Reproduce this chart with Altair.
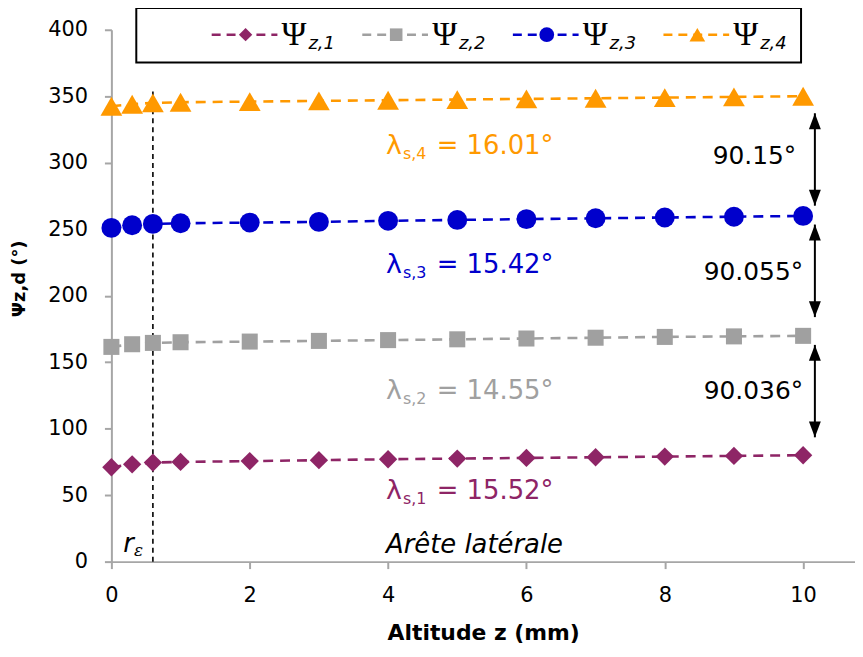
import altair as alt
import pandas as pd

# ---------------- data ----------------
z_mm = [0, 0.3, 0.6, 1, 2, 3, 4, 5, 6, 7, 8, 9, 10]
psi_z1 = [71.0, 73.2, 74.5, 75.0, 75.6, 76.3, 77.0, 77.5, 78.0, 78.5, 79.0, 79.5, 80.0]
psi_z2 = [161.5, 163.5, 164.5, 165.0, 165.5, 166.0, 166.6, 167.2, 167.8, 168.4, 169.0, 169.4, 169.8]
psi_z3 = [251.0, 253.0, 254.0, 254.5, 255.0, 255.5, 256.3, 257.0, 257.6, 258.2, 258.8, 259.4, 260.0]
psi_z4 = [342.5, 344.0, 345.0, 345.5, 346.0, 346.5, 347.0, 347.5, 348.0, 348.5, 349.0, 349.5, 350.0]

series_values = [psi_z1, psi_z2, psi_z3, psi_z4]
series_sub = ["z,1", "z,2", "z,3", "z,4"]
colors = ["#8E2566", "#A0A0A0", "#0000CC", "#FF9900"]
shapes = ["diamond", "square", "circle", "triangle-up"]
sizes = [340, 260, 400, 480]
legend_sizes = [180, 160, 220, 250]

lambda_sub = ["s,1", "s,2", "s,3", "s,4"]
lambda_val = ["= 15.52°", "= 14.55°", "= 15.42°", "= 16.01°"]
lambda_y = [53.0, 128.0, 223.0, 312.5]
lambda_x = 3.97

gap_labels = ["90.036°", "90.055°", "90.15°"]
gap_low = [93.5, 183.9, 267.7]
gap_high = [163.0, 253.5, 337.2]
gap_label_y = [128.6, 217.6, 305.0]
gap_label_x = [10.0, 10.0, 9.9]
arrow_x = 10.17

r_eps = 0.6
r_eps_top = 355

x_ticks = [0, 2, 4, 6, 8, 10]
y_ticks = [0, 50, 100, 150, 200, 250, 300, 350, 400]

FONT = "DejaVu Sans"
SERIF = "DejaVu Serif"

X_DOMAIN = [0, 10.75]
Y_DOMAIN = [0, 400]

xs = alt.Scale(domain=X_DOMAIN, nice=False, zero=False)
ys = alt.Scale(domain=Y_DOMAIN, nice=False)

x_axis = alt.Axis(values=x_ticks, title="Altitude z (mm)", grid=False,
                  domainColor="#A6A6A6", domainWidth=2, tickColor="#A6A6A6",
                  tickWidth=2, tickSize=7, labelFontSize=21, labelColor="#000",
                  labelFont=FONT, labelPadding=16, titleFont=FONT,
                  titleFontSize=22, titleFontWeight="bold", titleColor="#000",
                  titlePadding=17, labelFlush=False)
y_axis = alt.Axis(values=y_ticks, title="Ψz,d (°)", grid=False,
                  domainColor="#A6A6A6", domainWidth=2, tickColor="#A6A6A6",
                  tickWidth=2, tickSize=7, labelFontSize=21, labelColor="#000",
                  labelFont=FONT, labelPadding=17, titleFont=FONT,
                  titleFontSize=18, titleFontWeight="bold", titleColor="#000",
                  titleX=-92, titleY=250, titleAngle=-90, titleBaseline="middle",
                  titleAlign="center")


def X(field="x"):
    return alt.X(f"{field}:Q", scale=xs, axis=x_axis)


def Y(field="y"):
    return alt.Y(f"{field}:Q", scale=ys, axis=y_axis)


layers = []

# r_epsilon dashed vertical line
reps_df = pd.DataFrame({"x": [r_eps], "y": [0], "y2": [r_eps_top]})
layers.append(alt.Chart(reps_df).mark_rule(color="black", strokeDash=[5, 4], strokeWidth=1.6).encode(
    x=X(), y=Y(), y2="y2:Q"))

# series
for vals, col, shp, sz in zip(series_values, colors, shapes, sizes):
    df = pd.DataFrame({"x": z_mm, "y": vals})
    layers.append(alt.Chart(df).mark_line(color=col, strokeDash=[10, 7], strokeWidth=2.6).encode(x=X(), y=Y()))
    layers.append(alt.Chart(df).mark_point(color=col, shape=shp, size=sz, filled=True, opacity=1).encode(x=X(), y=Y()))

# lambda annotations
for sub, val, ly, col in zip(lambda_sub, lambda_val, lambda_y, colors):
    df = pd.DataFrame({"x": [lambda_x], "y": [ly]})
    base = alt.Chart(df).encode(x=X(), y=Y())
    layers.append(base.mark_text(text="λ", font=FONT, fontSize=27, color=col, align="left", baseline="middle"))
    layers.append(base.mark_text(text=sub, font=FONT, fontSize=16, color=col, align="left", baseline="middle", dx=17, dy=8))
    layers.append(base.mark_text(text=val, font=FONT, fontSize=26, color=col, align="left", baseline="middle", dx=51))

# gap arrows
for lo, hi, lab, lyy, lxx in zip(gap_low, gap_high, gap_labels, gap_label_y, gap_label_x):
    df = pd.DataFrame({"x": [arrow_x], "y": [lo], "y2": [hi]})
    layers.append(alt.Chart(df).mark_rule(color="black", strokeWidth=2).encode(x=X(), y=Y(), y2="y2:Q"))
    top = pd.DataFrame({"x": [arrow_x], "y": [hi]})
    bot = pd.DataFrame({"x": [arrow_x], "y": [lo]})
    layers.append(alt.Chart(top).mark_point(shape="M0,0L-0.6,1.6L0.6,1.6Z", size=400, filled=True,
                                            color="black", opacity=1).encode(x=X(), y=Y()))
    layers.append(alt.Chart(bot).mark_point(shape="M0,0L-0.6,-1.6L0.6,-1.6Z", size=400, filled=True,
                                            color="black", opacity=1).encode(x=X(), y=Y()))
    tdf = pd.DataFrame({"x": [lxx], "y": [lyy]})
    layers.append(alt.Chart(tdf).mark_text(text=lab, font=FONT, fontSize=25, color="black",
                                           align="right", baseline="middle").encode(x=X(), y=Y()))

# r_epsilon label and "Arête latérale"
rdf = pd.DataFrame({"x": [0.17], "y": [13.5]})
layers.append(alt.Chart(rdf).mark_text(text="r", font=FONT, fontStyle="italic", fontSize=26,
                                       align="left", baseline="middle", color="black").encode(x=X(), y=Y()))
layers.append(alt.Chart(rdf).mark_text(text="ε", font=SERIF, fontStyle="italic", fontSize=17,
                                       align="left", baseline="middle", color="black", dx=11, dy=7).encode(x=X(), y=Y()))
adf = pd.DataFrame({"x": [3.97], "y": [12.7]})
layers.append(alt.Chart(adf).mark_text(text="Arête latérale", font=FONT, fontStyle="italic", fontSize=26,
                                       align="left", baseline="middle", color="black").encode(x=X(), y=Y()))

# legend box
LEG_Y = 396.3
LEG_STEP = 2.177
box = pd.DataFrame({"x": [0.36], "x2": [9.97], "y": [375.3], "y2": [416.4]})
layers.append(alt.Chart(box).mark_rect(fill="white", stroke="black", strokeWidth=2).encode(
    x=X(), x2="x2:Q", y=Y(), y2="y2:Q"))
for i, (sub, col, shp, lsz) in enumerate(zip(series_sub, colors, shapes, legend_sizes)):
    off = i * LEG_STEP
    seg = pd.DataFrame({"x": [1.45 + off], "x2": [2.40 + off], "y": [LEG_Y]})
    layers.append(alt.Chart(seg).mark_rule(color=col, strokeDash=[9, 6], strokeWidth=2.6).encode(
        x=X(), x2="x2:Q", y=Y()))
    pt = pd.DataFrame({"x": [1.94 + off], "y": [LEG_Y]})
    layers.append(alt.Chart(pt).mark_point(color=col, shape=shp, size=lsz, filled=True, opacity=1).encode(
        x=X(), y=Y()))
    tx = pd.DataFrame({"x": [2.46 + off], "y": [LEG_Y]})
    layers.append(alt.Chart(tx).mark_text(text="Ψ", font="Liberation Serif", fontSize=34, color="black",
                                          align="left", baseline="middle").encode(x=X(), y=Y()))
    layers.append(alt.Chart(tx).mark_text(text=sub, font=FONT, fontStyle="italic", fontSize=18, color="black",
                                          align="left", baseline="middle", dx=27, dy=9).encode(x=X(), y=Y()))

chart = alt.layer(*layers).properties(
    width=748, height=535,
    autosize=alt.AutoSizeParams(type="none"),
    padding={"left": 104, "top": 20, "right": 0, "bottom": 88},
).configure(background="white").configure_view(stroke=None)

chart.save("out.html", embed_options={"renderer": "svg", "actions": False})
